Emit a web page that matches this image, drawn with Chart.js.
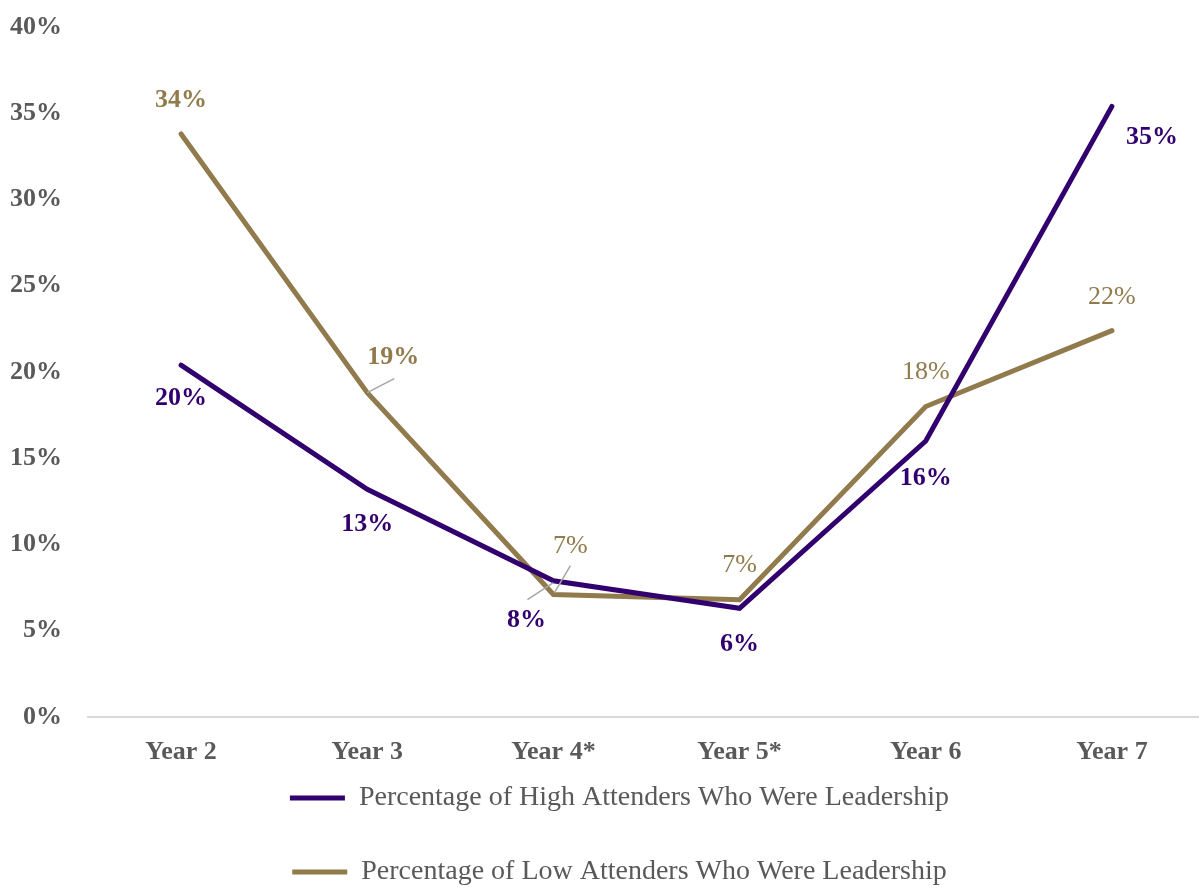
<!DOCTYPE html>
<html>
<head>
<meta charset="utf-8">
<script src="https://cdn.jsdelivr.net/npm/chart.js@4.4.1/dist/chart.umd.min.js"></script>
<style>
    html, body { margin: 0; padding: 0; background: #fff; overflow: hidden; }
    #wrap { width: 1199px; height: 888px; overflow: hidden; }
</style>
</head>
<body>
<!-- canvas is 6px wider than the page so the last category sits where the original had it -->
<div id="wrap"><canvas id="lineCanvas" width="1205" height="888"></canvas></div>
<script>

const years = ["Year 2", "Year 3", "Year 4*", "Year 5*", "Year 6", "Year 7"];
const highAttenders = [20.4, 13.2, 7.9, 6.3, 16.0, 35.4];
const lowAttenders = [33.8, 18.8, 7.1, 6.8, 18.0, 22.4];
const yTicks = [0, 5, 10, 15, 20, 25, 30, 35, 40];

const purple = "#32006e";
const gold = "#917b4c";
const grey = "#595959";
const serif = "'Liberation Serif', 'DejaVu Serif', serif";

// label placement per point: dx, dy from the point, bold, leader line
const highLabelPos = [
    {dx: 0, dy: 33, bold: true},
    {dx: 0, dy: 35, bold: true},
    {dx: -27, dy: 40, bold: true, leader: [-26, 19, 0, 2]},
    {dx: 0, dy: 36, bold: true},
    {dx: 0, dy: 37, bold: true},
    {dx: 40, dy: 31, bold: true}
];
const lowLabelPos = [
    {dx: 0, dy: -34, bold: true},
    {dx: 26, dy: -35, bold: true, leader: [27, -14, 0, 0]},
    {dx: 17, dy: -48, bold: false, leader: [17, -29, 1, -2]},
    {dx: 0, dy: -35, bold: false},
    {dx: 0, dy: -34, bold: false},
    {dx: 0, dy: -33, bold: false}
];

const pointLabels = {
    id: "pointLabels",
    afterDatasetsDraw(chart) {
        const ctx = chart.ctx;
        const sets = [
            {meta: chart.getDatasetMeta(0), pos: highLabelPos, color: purple, vals: highAttenders},
            {meta: chart.getDatasetMeta(1), pos: lowLabelPos, color: gold, vals: lowAttenders}
        ];
        ctx.save();
        sets.forEach(s => {
            s.meta.data.forEach((pt, i) => {
                const p = s.pos[i];
                if (p.leader) {
                    ctx.strokeStyle = "#a6a6a6";
                    ctx.lineWidth = 1.5;
                    ctx.beginPath();
                    ctx.moveTo(pt.x + p.leader[0], pt.y + p.leader[1]);
                    ctx.lineTo(pt.x + p.leader[2], pt.y + p.leader[3]);
                    ctx.stroke();
                }
                ctx.fillStyle = s.color;
                ctx.font = (p.bold ? "bold " : "") + "26px " + serif;
                ctx.textAlign = "center";
                ctx.textBaseline = "middle";
                ctx.fillText(Math.round(s.vals[i]) + "%", pt.x + p.dx, pt.y + p.dy);
            });
        });
        ctx.restore();
    }
};

// the legend in the original is centred a bit left of the plot area
const shiftLegend = {
    id: "shiftLegend",
    afterLayout(chart) {
        chart.legend.left -= 27;
        chart.legend.right -= 27;
    }
};

const lineCanvas = document.getElementById("lineCanvas");

const lineChart = new Chart(lineCanvas, {
    type: "line",
    data: {
        labels: years,
        datasets: [{
            label: "Percentage of High Attenders Who Were Leadership",
            data: highAttenders,
            borderColor: purple,
            backgroundColor: purple,
            borderWidth: 5,
            borderCapStyle: "round",
            pointRadius: 0,
            tension: 0
        }, {
            label: "Percentage of Low Attenders Who Were Leadership",
            data: lowAttenders,
            borderColor: gold,
            backgroundColor: gold,
            borderWidth: 5,
            borderCapStyle: "round",
            pointRadius: 0,
            tension: 0
        }]
    },
    plugins: [pointLabels, shiftLegend],
    options: {
        responsive: false,
        animation: false,
        layout: {
            padding: 0
        },
        plugins: {
            tooltip: {enabled: false},
            legend: {
                position: "bottom",
                fullSize: false,
                maxHeight: 120,
                // empty title with negative padding pulls the rows up
                title: {display: true, text: "", font: {size: 12}, padding: {top: -44.4, bottom: 0}},
                labels: {
                    boxWidth: 55,
                    boxHeight: 5,
                    padding: 46,
                    color: grey,
                    font: {family: serif, size: 28},
                    generateLabels: chart =>
                        Chart.defaults.plugins.legend.labels.generateLabels(chart)
                            .map(l => Object.assign(l, {lineWidth: 0}))
                }
            }
        },
        scales: {
            y: {
                min: 0,
                max: 40,
                afterBuildTicks: axis => {
                    axis.ticks = yTicks.map(v => ({value: v}));
                },
                afterFit: axis => {
                    axis.width = 88;
                    axis.paddingTop = 27;
                    axis.paddingBottom = 0;
                },
                ticks: {
                    padding: 26,
                    color: grey,
                    font: {family: serif, size: 26, weight: "bold"},
                    callback: v => v + "%"
                },
                grid: {display: false, drawTicks: false},
                border: {display: false}
            },
            x: {
                offset: true,
                afterFit: axis => {
                    axis.height = 51;
                },
                ticks: {
                    padding: 20,
                    color: grey,
                    font: {family: serif, size: 26, weight: "bold"}
                },
                grid: {display: false, drawTicks: false, offset: true},
                border: {display: true, color: "#d9d9d9", width: 2}
            }
        }
    }
});

</script>
</body>
</html>
